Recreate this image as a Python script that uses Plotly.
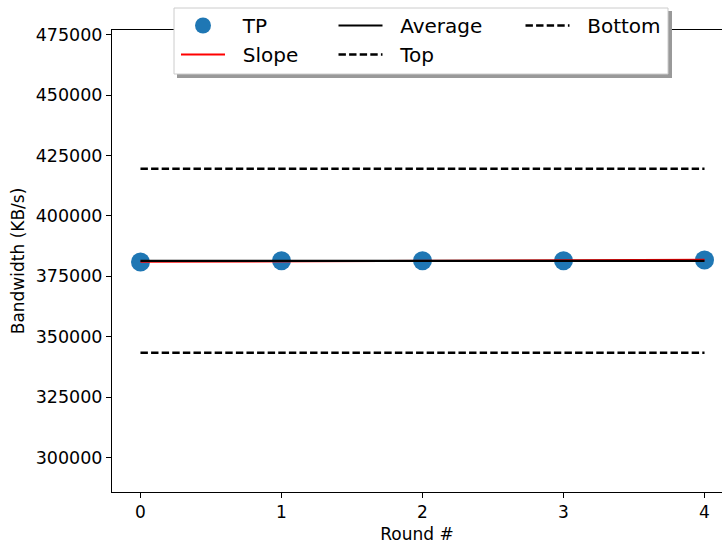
import plotly.graph_objects as go

rounds = [0, 1, 2, 3, 4]
tp = [380900, 381400, 381450, 381450, 381750]
slope = [380980, 381820]
slope_x = [0, 4]
average = [381400, 381400]
top = [419500, 419500]
bottom = [343300, 343300]
line_x = [0, 4]
y_ticks = [300000, 325000, 350000, 375000, 400000, 425000, 450000, 475000]
x_ticks = [0, 1, 2, 3, 4]

W, H = 722, 548
L, R, T, B = 112, 0, 30, 56
PW, PH = W - L - R, H - T - B


def px(x):
    return (x - L) / PW


def py(y):
    return (H - B - y) / PH


FONT = "DejaVu Sans"
PAD = "\u00a0\u00a0"
fig = go.Figure()

fig.add_trace(go.Scatter(x=rounds, y=tp, mode="markers", name=PAD + "TP",
                         marker=dict(color="#1f77b4", size=19),
                         legend="legend"))
fig.add_trace(go.Scatter(x=slope_x, y=slope, mode="lines", name=PAD + "Slope",
                         line=dict(color="red", width=2), legend="legend"))
fig.add_trace(go.Scatter(x=line_x, y=average, mode="lines", name=PAD + "Average",
                         line=dict(color="black", width=2.2), legend="legend2"))
fig.add_trace(go.Scatter(x=line_x, y=top, mode="lines", name=PAD + "Top",
                         line=dict(color="black", width=2.4, dash="7.4px,3.2px"),
                         legend="legend2"))
fig.add_trace(go.Scatter(x=line_x, y=bottom, mode="lines", name=PAD + "Bottom",
                         line=dict(color="black", width=2.4, dash="7.4px,3.2px"),
                         legend="legend3"))

# legend frame with shadow
fig.add_shape(type="rect", xref="paper", yref="paper",
              x0=px(177), x1=px(672), y0=py(78), y1=py(11),
              fillcolor="#999999", line=dict(width=0), layer="above")
fig.add_shape(type="rect", xref="paper", yref="paper",
              x0=px(174), x1=px(668), y0=py(74), y1=py(8),
              fillcolor="white", line=dict(color="#cccccc", width=1), layer="above")

leg_common = dict(font=dict(family=FONT, size=20, color="black"),
                  bgcolor="rgba(0,0,0,0)", borderwidth=0,
                  xanchor="left", yanchor="top", orientation="v",
                  itemwidth=44, tracegroupgap=0, itemclick=False)

fig.update_layout(
    width=W, height=H,
    margin=dict(l=L, r=R, t=T, b=B, pad=0),
    paper_bgcolor="white", plot_bgcolor="white",
    font=dict(family=FONT, size=17, color="black"),
    showlegend=True,
    legend=dict(x=px(203 - 27), y=py(6), **leg_common),
    legend2=dict(x=px(360.5 - 27), y=py(6), **leg_common),
    legend3=dict(x=px(547.5 - 27), y=py(6), **leg_common),
    xaxis=dict(range=[-0.202, 4.124], tickvals=x_ticks, ticktext=[str(v) for v in x_ticks],
               showgrid=False, zeroline=False, showline=True, linecolor="black",
               linewidth=1.1, mirror=True, ticks="outside", ticklen=5, tickwidth=1.1,
               tickcolor="black", tickfont=dict(family=FONT, size=17),
               title=dict(text="Round #", font=dict(family=FONT, size=17), standoff=6)),
    yaxis=dict(range=[285677, 476950], tickvals=y_ticks, ticktext=[str(v) for v in y_ticks],
               showgrid=False, zeroline=False, showline=True, linecolor="black",
               linewidth=1.1, mirror=False, ticks="outside", ticklen=5, tickwidth=1.1,
               tickcolor="black", tickfont=dict(family=FONT, size=17.5),
               title=dict(text="Bandwidth (KB/s)", font=dict(family=FONT, size=17), standoff=6)),
)

fig.write_html("out.html", config={"displayModeBar": False},
               post_script="document.body.style.margin='0';document.body.style.overflow='hidden';")
